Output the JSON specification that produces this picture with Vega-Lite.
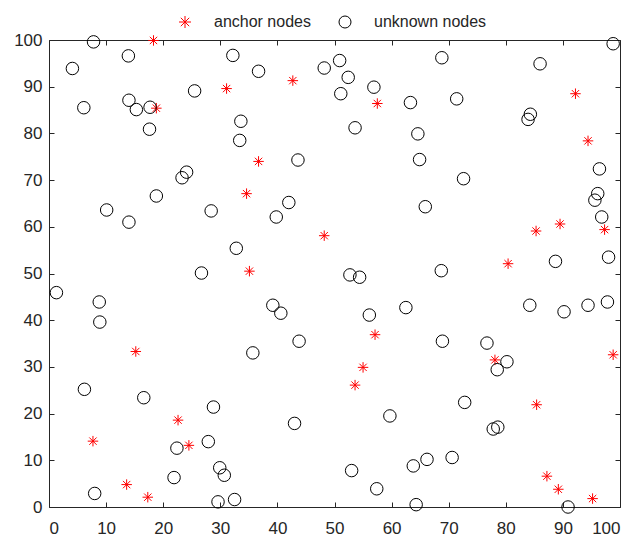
{
  "$schema": "https://vega.github.io/schema/vega-lite/v6.json",
  "autosize": "none",
  "padding": {"left": 49, "top": 40, "right": 24, "bottom": 29},
  "width": 571,
  "height": 467,
  "background": "white",
  "config": {
    "view": {"stroke": null},
    "axis": {
      "domainColor": "#262626", "tickColor": "#262626", "labelColor": "#262626",
      "labelFont": "Liberation Sans", "labelFontSize": 17, "tickSize": -5,
      "grid": false, "title": null, "domainWidth": 1, "tickWidth": 1
    },
    "legend": {
      "orient": "none", "legendX": 128, "legendY": -26, "direction": "horizontal",
      "labelFont": "Liberation Sans", "labelFontSize": 16, "labelColor": "#262626",
      "symbolSize": 144, "symbolStrokeWidth": 1, "labelOffset": 21, "columnPadding": 26
    }
  },
  "data": {"values": [
    {"x":18.3,"y":99.9,"t":"anchor nodes"},{"x":18.8,"y":85.4,"t":"anchor nodes"},{"x":31.1,"y":89.6,"t":"anchor nodes"},{"x":42.7,"y":91.3,"t":"anchor nodes"},{"x":36.7,"y":74.0,"t":"anchor nodes"},{"x":34.6,"y":67.1,"t":"anchor nodes"},{"x":35.1,"y":50.5,"t":"anchor nodes"},{"x":48.2,"y":58.1,"t":"anchor nodes"},
    {"x":57.5,"y":86.4,"t":"anchor nodes"},{"x":92.2,"y":88.5,"t":"anchor nodes"},{"x":94.4,"y":78.4,"t":"anchor nodes"},{"x":89.5,"y":60.6,"t":"anchor nodes"},{"x":85.3,"y":59.1,"t":"anchor nodes"},{"x":97.3,"y":59.4,"t":"anchor nodes"},{"x":80.4,"y":52.1,"t":"anchor nodes"},
    {"x":15.2,"y":33.3,"t":"anchor nodes"},{"x":22.6,"y":18.6,"t":"anchor nodes"},{"x":7.7,"y":14.1,"t":"anchor nodes"},{"x":24.5,"y":13.2,"t":"anchor nodes"},{"x":13.6,"y":4.8,"t":"anchor nodes"},{"x":17.3,"y":2.1,"t":"anchor nodes"},
    {"x":57.1,"y":36.9,"t":"anchor nodes"},{"x":55.0,"y":29.9,"t":"anchor nodes"},{"x":53.6,"y":26.1,"t":"anchor nodes"},{"x":78.1,"y":31.5,"t":"anchor nodes"},{"x":85.4,"y":21.9,"t":"anchor nodes"},{"x":98.8,"y":32.6,"t":"anchor nodes"},{"x":87.2,"y":6.6,"t":"anchor nodes"},{"x":89.2,"y":3.8,"t":"anchor nodes"},{"x":95.2,"y":1.8,"t":"anchor nodes"},
    {"x":4.1,"y":93.9,"t":"unknown nodes"},{"x":7.8,"y":99.6,"t":"unknown nodes"},{"x":6.1,"y":85.5,"t":"unknown nodes"},{"x":13.9,"y":96.6,"t":"unknown nodes"},{"x":14.0,"y":87.1,"t":"unknown nodes"},{"x":15.3,"y":85.1,"t":"unknown nodes"},{"x":17.7,"y":85.6,"t":"unknown nodes"},{"x":17.6,"y":80.9,"t":"unknown nodes"},{"x":25.5,"y":89.1,"t":"unknown nodes"},{"x":32.2,"y":96.7,"t":"unknown nodes"},{"x":36.7,"y":93.3,"t":"unknown nodes"},{"x":33.6,"y":82.6,"t":"unknown nodes"},{"x":33.4,"y":78.5,"t":"unknown nodes"},{"x":24.1,"y":71.7,"t":"unknown nodes"},{"x":23.3,"y":70.5,"t":"unknown nodes"},{"x":18.8,"y":66.6,"t":"unknown nodes"},{"x":10.1,"y":63.6,"t":"unknown nodes"},{"x":14.0,"y":61.0,"t":"unknown nodes"},{"x":28.4,"y":63.4,"t":"unknown nodes"},{"x":32.8,"y":55.4,"t":"unknown nodes"},{"x":26.7,"y":50.1,"t":"unknown nodes"},{"x":43.6,"y":74.3,"t":"unknown nodes"},{"x":42.0,"y":65.2,"t":"unknown nodes"},{"x":39.8,"y":62.1,"t":"unknown nodes"},{"x":48.2,"y":94.0,"t":"unknown nodes"},
    {"x":50.9,"y":95.6,"t":"unknown nodes"},{"x":52.4,"y":92.0,"t":"unknown nodes"},{"x":51.1,"y":88.5,"t":"unknown nodes"},{"x":56.9,"y":89.9,"t":"unknown nodes"},{"x":63.3,"y":86.6,"t":"unknown nodes"},{"x":71.4,"y":87.4,"t":"unknown nodes"},{"x":68.8,"y":96.2,"t":"unknown nodes"},{"x":53.6,"y":81.2,"t":"unknown nodes"},{"x":64.6,"y":79.9,"t":"unknown nodes"},{"x":64.9,"y":74.4,"t":"unknown nodes"},{"x":72.6,"y":70.3,"t":"unknown nodes"},{"x":65.9,"y":64.3,"t":"unknown nodes"},{"x":86.0,"y":94.9,"t":"unknown nodes"},{"x":98.8,"y":99.2,"t":"unknown nodes"},{"x":84.3,"y":84.1,"t":"unknown nodes"},{"x":83.9,"y":83.0,"t":"unknown nodes"},{"x":96.4,"y":72.4,"t":"unknown nodes"},{"x":96.1,"y":67.1,"t":"unknown nodes"},{"x":95.6,"y":65.7,"t":"unknown nodes"},{"x":96.8,"y":62.1,"t":"unknown nodes"},{"x":98.0,"y":53.5,"t":"unknown nodes"},{"x":88.7,"y":52.6,"t":"unknown nodes"},{"x":68.7,"y":50.6,"t":"unknown nodes"},{"x":52.7,"y":49.7,"t":"unknown nodes"},{"x":54.4,"y":49.2,"t":"unknown nodes"},
    {"x":1.3,"y":45.9,"t":"unknown nodes"},{"x":8.8,"y":43.9,"t":"unknown nodes"},{"x":8.9,"y":39.6,"t":"unknown nodes"},{"x":6.2,"y":25.2,"t":"unknown nodes"},{"x":16.6,"y":23.4,"t":"unknown nodes"},{"x":8.0,"y":2.9,"t":"unknown nodes"},{"x":39.2,"y":43.2,"t":"unknown nodes"},{"x":40.6,"y":41.5,"t":"unknown nodes"},{"x":43.8,"y":35.5,"t":"unknown nodes"},{"x":35.7,"y":33.0,"t":"unknown nodes"},{"x":28.8,"y":21.4,"t":"unknown nodes"},{"x":27.9,"y":14.0,"t":"unknown nodes"},{"x":22.4,"y":12.6,"t":"unknown nodes"},{"x":21.9,"y":6.3,"t":"unknown nodes"},{"x":29.9,"y":8.4,"t":"unknown nodes"},{"x":30.7,"y":6.8,"t":"unknown nodes"},{"x":29.6,"y":1.1,"t":"unknown nodes"},{"x":32.5,"y":1.6,"t":"unknown nodes"},{"x":43.0,"y":17.9,"t":"unknown nodes"},
    {"x":56.1,"y":41.1,"t":"unknown nodes"},{"x":62.5,"y":42.7,"t":"unknown nodes"},{"x":84.2,"y":43.2,"t":"unknown nodes"},{"x":90.2,"y":41.8,"t":"unknown nodes"},{"x":94.4,"y":43.2,"t":"unknown nodes"},{"x":97.8,"y":43.9,"t":"unknown nodes"},{"x":68.9,"y":35.5,"t":"unknown nodes"},{"x":76.7,"y":35.1,"t":"unknown nodes"},{"x":80.2,"y":31.1,"t":"unknown nodes"},{"x":78.5,"y":29.4,"t":"unknown nodes"},{"x":72.8,"y":22.4,"t":"unknown nodes"},{"x":59.7,"y":19.5,"t":"unknown nodes"},{"x":77.8,"y":16.7,"t":"unknown nodes"},{"x":78.6,"y":17.1,"t":"unknown nodes"},{"x":53.0,"y":7.8,"t":"unknown nodes"},{"x":57.4,"y":3.9,"t":"unknown nodes"},{"x":63.8,"y":8.8,"t":"unknown nodes"},{"x":66.2,"y":10.2,"t":"unknown nodes"},{"x":70.6,"y":10.6,"t":"unknown nodes"},{"x":64.3,"y":0.5,"t":"unknown nodes"},{"x":90.9,"y":0.0,"t":"unknown nodes"}
  ]},
  "resolve": {"axis": {"x": "independent", "y": "independent"}},
  "layer": [
    {
      "transform": [{"filter": "datum.t === 'anchor nodes'"}],
      "mark": {"type": "point", "filled": false, "strokeWidth": 1, "size": 110, "opacity": 1},
      "encoding": {
        "x": {"field": "x", "type": "quantitative", "scale": {"domain": [0, 100], "nice": false},
              "axis": {"orient": "bottom", "values": [0,10,20,30,40,50,60,70,80,90,100], "labelPadding": 18}},
        "y": {"field": "y", "type": "quantitative", "scale": {"domain": [0, 100], "nice": false},
              "axis": {"orient": "left", "values": [0,10,20,30,40,50,60,70,80,90,100], "labelPadding": 12}},
        "shape": {"field": "t", "type": "nominal",
                  "scale": {"domain": ["anchor nodes", "unknown nodes"], "range": ["M0,-1L0,1M-1,0L1,0M-0.7,-0.7L0.7,0.7M-0.7,0.7L0.7,-0.7", "circle"]},
                  "legend": {"title": null}},
        "color": {"field": "t", "type": "nominal",
                  "scale": {"domain": ["anchor nodes", "unknown nodes"], "range": ["#ff0000", "#000000"]},
                  "legend": {"title": null}}
      }
    },
    {
      "transform": [{"filter": "datum.t === 'unknown nodes'"}],
      "mark": {"type": "point", "filled": false, "strokeWidth": 1, "size": 156, "opacity": 1},
      "encoding": {
        "x": {"field": "x", "type": "quantitative",
              "axis": {"orient": "top", "values": [0,10,20,30,40,50,60,70,80,90,100], "labels": false}},
        "y": {"field": "y", "type": "quantitative",
              "axis": {"orient": "right", "values": [0,10,20,30,40,50,60,70,80,90,100], "labels": false}},
        "shape": {"field": "t", "type": "nominal"},
        "color": {"field": "t", "type": "nominal"}
      }
    }
  ]
}
